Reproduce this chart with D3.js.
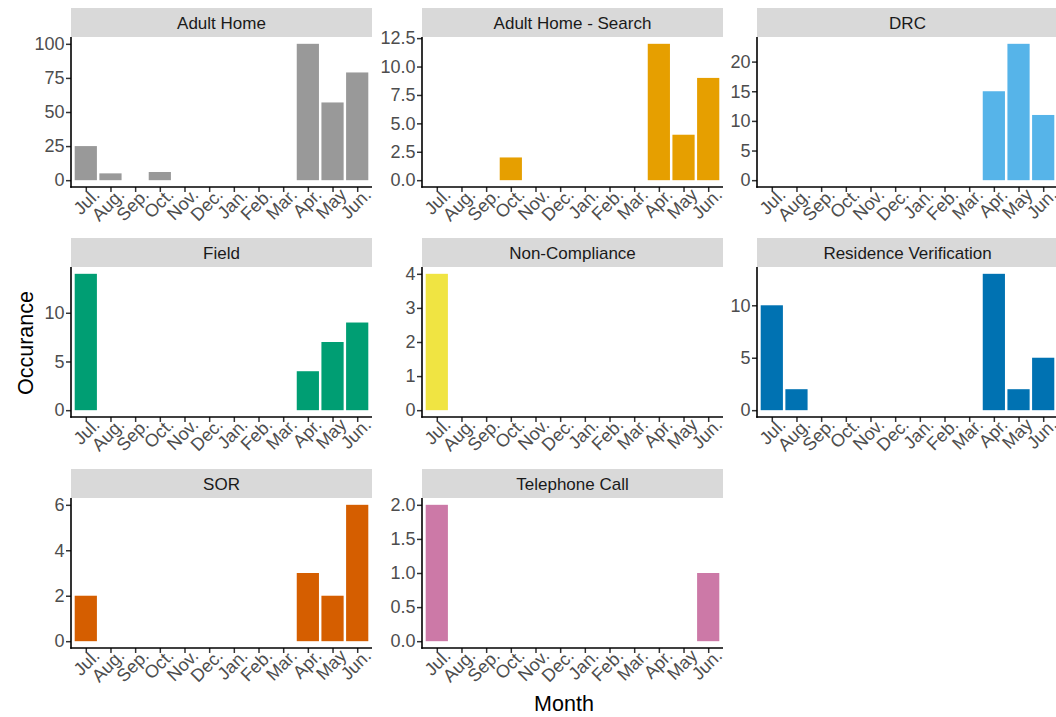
<!DOCTYPE html>
<html>
<head>
<meta charset="utf-8">
<script src="https://cdn.jsdelivr.net/npm/d3@7/dist/d3.min.js"></script>
<style>
  html, body { margin: 0; padding: 0; background: #ffffff; }
  svg { display: block; }
</style>
</head>
<body>
<svg id="chart" width="1056" height="717"></svg>
<script>
// ---------------- data ----------------
const months = ["Jul.","Aug.","Sep.","Oct.","Nov.","Dec.","Jan.","Feb.","Mar.","Apr.","May","Jun."];
const categories = ["Adult Home","Adult Home - Search","DRC","Field","Non-Compliance","Residence Verification","SOR","Telephone Call"];

const adultHome       = [25, 5, 0, 6, 0, 0, 0, 0, 0, 100, 57, 79];
const adultHomeSearch = [0, 0, 0, 2, 0, 0, 0, 0, 0, 12, 4, 9];
const drc             = [0, 0, 0, 0, 0, 0, 0, 0, 0, 15, 23, 11];
const field           = [14, 0, 0, 0, 0, 0, 0, 0, 0, 4, 7, 9];
const nonCompliance   = [4, 0, 0, 0, 0, 0, 0, 0, 0, 0, 0, 0];
const residenceVerif  = [10, 2, 0, 0, 0, 0, 0, 0, 0, 13, 2, 5];
const sor             = [2, 0, 0, 0, 0, 0, 0, 0, 0, 3, 2, 6];
const telephoneCall   = [2, 0, 0, 0, 0, 0, 0, 0, 0, 0, 0, 1];

const seriesValues = [adultHome, adultHomeSearch, drc, field, nonCompliance, residenceVerif, sor, telephoneCall];

const tickLabels = [
  ["0","25","50","75","100"],
  ["0.0","2.5","5.0","7.5","10.0","12.5"],
  ["0","5","10","15","20"],
  ["0","5","10"],
  ["0","1","2","3","4"],
  ["0","5","10"],
  ["0","2","4","6"],
  ["0.0","0.5","1.0","1.5","2.0"]
];

const colors = ["#999999","#E69F00","#56B4E9","#009E73","#F0E442","#0072B2","#D55E00","#CC79A7"];

// ---------------- layout ----------------
const colX = [71, 422, 757];
const panelW = 301;
const stripTop = [8, 238, 469];
const stripH = 29;
const panelH = 150;
const FONT = "'Liberation Sans', Arial, sans-serif";
const TICK_FS = 18;

const svg = d3.select("#chart");

categories.forEach((cat, i) => {
  const col = i % 3, row = Math.floor(i / 3);
  const x0 = colX[col];
  const top = stripTop[row] + stripH;
  const bottom = top + panelH;
  const vals = seriesValues[i];
  const maxV = d3.max(vals);

  const x = d3.scalePoint().domain(months).range([x0, x0 + panelW]).padding(0.6);
  const step = x.step();
  const y = d3.scaleLinear().domain([-0.05 * maxV, 1.05 * maxV]).range([bottom, top]);

  const g = svg.append("g");

  // strip
  g.append("rect").attr("x", x0).attr("y", stripTop[row]).attr("width", panelW).attr("height", stripH)
    .attr("fill", "#D9D9D9");
  g.append("text").attr("x", x0 + panelW / 2).attr("y", stripTop[row] + stripH / 2 + 6)
    .attr("text-anchor", "middle").attr("font-family", FONT).attr("font-size", 17)
    .attr("fill", "#1A1A1A").text(cat);

  // bars
  g.selectAll("rect.bar").data(months.map((m, k) => ({m, v: vals[k]})).filter(d => d.v > 0))
    .enter().append("rect").attr("class", "bar")
    .attr("x", d => x(d.m) - 0.45 * step)
    .attr("width", 0.9 * step)
    .attr("y", d => y(d.v))
    .attr("height", d => y(0) - y(d.v))
    .attr("fill", colors[i]);

  // y axis
  const yAxis = d3.axisLeft(y).tickValues(tickLabels[i].map(Number))
    .tickFormat((d, k) => tickLabels[i][k]).tickSize(5).tickPadding(1.5).tickSizeOuter(0);
  const ya = g.append("g").attr("transform", `translate(${x0},0)`).call(yAxis);
  ya.select(".domain").remove();
  ya.selectAll(".tick line").attr("stroke", "#333333").attr("stroke-width", 1.5);
  ya.selectAll(".tick text").attr("font-family", FONT).attr("font-size", TICK_FS).attr("fill", "#4D4D4D");
  g.append("line").attr("x1", x0).attr("x2", x0).attr("y1", top).attr("y2", bottom + 0.75)
    .attr("stroke", "#000").attr("stroke-width", 1.6);

  // x axis
  const xAxis = d3.axisBottom(x).tickSize(5).tickSizeOuter(0);
  const xa = g.append("g").attr("transform", `translate(0,${bottom})`).call(xAxis);
  xa.select(".domain").remove();
  xa.selectAll(".tick line").attr("stroke", "#333333").attr("stroke-width", 1.5);
  xa.selectAll(".tick text")
    .attr("font-family", FONT).attr("font-size", TICK_FS).attr("fill", "#4D4D4D")
    .attr("text-anchor", "end").attr("dy", null).attr("y", null)
    .attr("transform", "translate(14.5,9) rotate(-45)");
  g.append("line").attr("x1", x0 - 0.75).attr("x2", x0 + panelW).attr("y1", bottom).attr("y2", bottom)
    .attr("stroke", "#000").attr("stroke-width", 1.6);
});

// axis titles
svg.append("text").attr("transform", "translate(33,343) rotate(-90)")
  .attr("text-anchor", "middle").attr("font-family", FONT).attr("font-size", 21.5)
  .attr("fill", "#000").text("Occurance");
svg.append("text").attr("x", 564).attr("y", 711)
  .attr("text-anchor", "middle").attr("font-family", FONT).attr("font-size", 21.5)
  .attr("fill", "#000").text("Month");
</script>
</body>
</html>
